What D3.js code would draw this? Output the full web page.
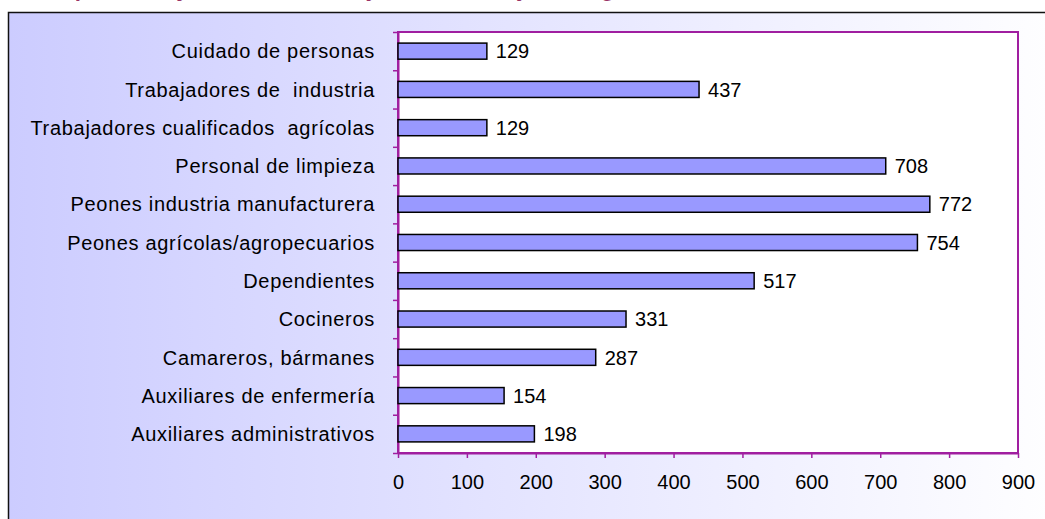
<!DOCTYPE html>
<html>
<head>
<meta charset="utf-8">
<script src="https://cdn.jsdelivr.net/npm/d3@7"></script>
<style>
    body { margin: 0; background: #ffffff; }
    svg { display: block; font-family: "Liberation Sans", Arial, sans-serif; }
    text { white-space: pre; }
</style>
</head>
<body>
<div id="container"></div>
<script>
// categories from top to bottom, as in the chart
var categories = [
    "Cuidado de personas",
    "Trabajadores de  industria",
    "Trabajadores cualificados  agrícolas",
    "Personal de limpieza",
    "Peones industria manufacturera",
    "Peones agrícolas/agropecuarios",
    "Dependientes",
    "Cocineros",
    "Camareros, bármanes",
    "Auxiliares de enfermería",
    "Auxiliares administrativos"
];

// number of workers per category
var values = [129, 437, 129, 708, 772, 754, 517, 331, 287, 154, 198];

// ticks of the value axis
var xTicks = [0, 100, 200, 300, 400, 500, 600, 700, 800, 900];

// title, mostly cut off at the top of the picture
var titleText = "Ocupaciones y número de trabajadores extranjeros según contratos";

var width = 1045, height = 519;
var plot = { left: 398, top: 32, right: 1018, bottom: 453 };
var purple = "#a01ea0";

var svg = d3.select("#container").append("svg")
    .attr("width", width)
    .attr("height", height);

// gradient background of the chart frame
function drawFrame() {
    var grad = svg.append("defs").append("linearGradient")
        .attr("id", "bg")
        .attr("x1", "0%").attr("x2", "100%")
        .attr("y1", "0%").attr("y2", "0%");
    grad.append("stop").attr("offset", "0%").attr("stop-color", "#ccccff");
    grad.append("stop").attr("offset", "100%").attr("stop-color", "#ffffff");

    svg.append("rect")
        .attr("x", 8.5)
        .attr("y", 12.5)
        .attr("width", 1060)
        .attr("height", 530)
        .attr("fill", "url(#bg)")
        .attr("stroke", "#111")
        .attr("stroke-width", 1.5);

    // title, only its lowest part is visible
    svg.append("text")
        .attr("x", 34)
        .attr("y", -4)
        .attr("fill", "#993366")
        .style("font-size", "22px")
        .style("font-weight", "bold")
        .style("font-style", "italic")
        .text(titleText);
};

var x = d3.scaleLinear()
    .domain([0, 900])
    .range([plot.left, plot.right]);

var y = d3.scaleBand()
    .domain(categories)
    .range([plot.top, plot.bottom])
    .padding(0);

// index scale for the category tick marks between bands
var yIndex = d3.scaleLinear()
    .domain([0, categories.length])
    .range([plot.top, plot.bottom]);

// white plot area with its border and both axes
function drawAxes() {
    svg.append("rect")
        .attr("x", plot.left)
        .attr("y", plot.top)
        .attr("width", plot.right - plot.left)
        .attr("height", plot.bottom - plot.top)
        .attr("fill", "#ffffff")
        .attr("stroke", purple)
        .attr("stroke-width", 2);

    // x axis
    var xAxis = d3.axisBottom(x)
        .tickValues(xTicks)
        .tickSize(5)
        .tickSizeOuter(0)
        .tickPadding(17);

    var gx = svg.append("g")
        .attr("transform", "translate(0," + plot.bottom + ")")
        .call(xAxis);
    gx.select(".domain").attr("stroke", purple).attr("stroke-width", 2);
    gx.selectAll(".tick line").attr("stroke", purple).attr("stroke-width", 1.5);
    gx.selectAll("text")
        .attr("fill", "#000")
        .style("font-size", "20px")
        .style("font-family", "Liberation Sans, Arial, sans-serif");

    // category tick marks on band edges
    var yAxis = d3.axisLeft(yIndex)
        .tickValues(d3.range(categories.length + 1))
        .tickSize(5)
        .tickSizeOuter(0)
        .tickFormat("");

    var gy = svg.append("g")
        .attr("transform", "translate(" + plot.left + ",0)")
        .call(yAxis);
    gy.select(".domain").attr("stroke", purple).attr("stroke-width", 2);
    gy.selectAll(".tick line").attr("stroke", purple).attr("stroke-width", 1.5);

    // category labels, a bit wider spaced like the original
    svg.append("g").selectAll("text")
        .data(categories)
        .enter().append("text")
        .attr("x", 375)
        .attr("y", function(d) { return y(d) + y.bandwidth() / 2; })
        .attr("dy", "0.36em")
        .attr("text-anchor", "end")
        .style("font-size", "20px")
        .style("letter-spacing", "0.7px")
        .text(function(d) { return d; });
};

// bars and their value labels
function drawBars() {
    var barHeight = y.bandwidth() * 0.42;

    svg.append("g").selectAll(".bar")
        .data(values)
        .enter().append("rect")
        .attr("class", "bar")
        .attr("x", x(0))
        .attr("y", function(d, i) { return y(categories[i]) + (y.bandwidth() - barHeight) / 2; })
        .attr("width", function(d) { return x(d) - x(0); })
        .attr("height", barHeight)
        .attr("fill", "#9999ff")
        .attr("stroke", "#000")
        .attr("stroke-width", 1.5);

    svg.append("g").selectAll(".value")
        .data(values)
        .enter().append("text")
        .attr("class", "value")
        .attr("x", function(d) { return x(d) + 9; })
        .attr("y", function(d, i) { return y(categories[i]) + y.bandwidth() / 2; })
        .attr("dy", "0.36em")
        .style("font-size", "20px")
        .text(function(d) { return d; });
};

drawFrame();
drawAxes();
drawBars();
</script>
</body>
</html>
